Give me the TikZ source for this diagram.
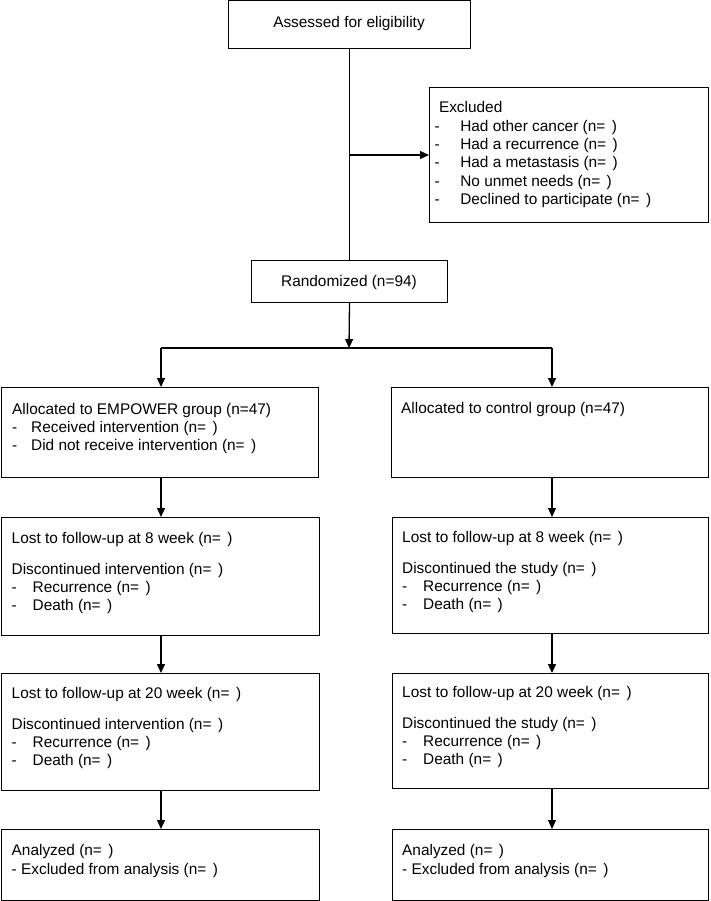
\documentclass[tikz,border=0pt]{standalone}
\usepackage{fontspec}
\setmainfont{Liberation Sans}
\usetikzlibrary{arrows.meta,calc}
\newcommand\nn{(n=\hspace{6.5pt})}
\newcommand\dashA[1]{\hspace*{-4.5pt}\makebox[25.8pt][l]{-}#1}
\newcommand\dashB[1]{\makebox[19pt][l]{-}#1}
\newcommand\dashC[1]{\makebox[21pt][l]{-}#1}
\begin{document}
\begin{tikzpicture}[x=1pt,y=-1pt,
  box/.style={draw, line width=1pt, anchor=north west, inner sep=0pt},
  txt/.style={anchor=base west, inner sep=0pt, font=\fontsize{15.4}{18.4}\selectfont},
  ctxt/.style={anchor=base, inner sep=0pt, font=\fontsize{15.4}{18.4}\selectfont},
  conn/.style={line width=1.3pt},
  arr/.style={line width=1.3pt, -{Triangle[length=9pt,width=8pt]}}]
\useasboundingbox (0,0) rectangle (710,901);

\node[box, minimum width=242pt, minimum height=47.5pt] (top) at (228,0.5) {};
\node[box, minimum width=279pt, minimum height=135pt] (excl) at (429,87) {};
\node[box, minimum width=196pt, minimum height=42pt] (rand) at (251,260) {};
\node[box, minimum width=317pt, minimum height=90pt] (l1) at (1,387) {};
\node[box, minimum width=317pt, minimum height=90pt] (r1) at (391,387) {};
\node[box, minimum width=318pt, minimum height=118pt] (l2) at (1,517) {};
\node[box, minimum width=316pt, minimum height=116pt] (r2) at (392,517) {};
\node[box, minimum width=318pt, minimum height=117pt] (l3) at (1,673) {};
\node[box, minimum width=316pt, minimum height=115pt] (r3) at (392,673) {};
\node[box, minimum width=318pt, minimum height=71pt] (l4) at (1,829) {};
\node[box, minimum width=316pt, minimum height=71pt] (r4) at (392,829) {};

\node[ctxt] (ttop) at (349,27.3) {Assessed for eligibility};
\node[ctxt] (trand) at (349,286.7) {Randomized (n=94)};
\node[txt] (texcl) at (438.8,112.7) {\begin{tabular}[t]{@{}l@{}}Excluded\\
  \dashA{Had other cancer \nn}\\
  \dashA{Had a recurrence \nn}\\
  \dashA{Had a metastasis \nn}\\
  \dashA{No unmet needs \nn}\\
  \dashA{Declined to participate \nn}\end{tabular}};
\node[txt] (tl1) at (12,414) {\begin{tabular}[t]{@{}l@{}}Allocated to EMPOWER group (n=47)\\
  \dashB{Received intervention \nn}\\
  \dashB{Did not receive intervention \nn}\end{tabular}};
\node[txt] (tr1) at (401,413) {Allocated to control group (n=47)};
\node[txt] (tl2) at (11.5,543) {\begin{tabular}[t]{@{}l@{}}Lost to follow-up at 8 week \nn\\[12.6pt]
  Discontinued intervention \nn\\
  \dashC{Recurrence \nn}\\
  \dashC{Death \nn}\end{tabular}};
\node[txt] (tr2) at (402,542) {\begin{tabular}[t]{@{}l@{}}Lost to follow-up at 8 week \nn\\[12.6pt]
  Discontinued the study \nn\\
  \dashC{Recurrence \nn}\\
  \dashC{Death \nn}\end{tabular}};
\node[txt] (tl3) at (11.5,698) {\begin{tabular}[t]{@{}l@{}}Lost to follow-up at 20 week \nn\\[12.6pt]
  Discontinued intervention \nn\\
  \dashC{Recurrence \nn}\\
  \dashC{Death \nn}\end{tabular}};
\node[txt] (tr3) at (402,697) {\begin{tabular}[t]{@{}l@{}}Lost to follow-up at 20 week \nn\\[12.6pt]
  Discontinued the study \nn\\
  \dashC{Recurrence \nn}\\
  \dashC{Death \nn}\end{tabular}};
\node[txt] (tl4) at (11.5,855.7) {\begin{tabular}[t]{@{}l@{}}Analyzed \nn\\
  - Excluded from analysis \nn\end{tabular}};
\node[txt] (tr4) at (402,855.7) {\begin{tabular}[t]{@{}l@{}}Analyzed \nn\\
  - Excluded from analysis \nn\end{tabular}};

\draw[conn] (top.south) -- (rand.north);
\coordinate (bx) at (349,155);
\draw[arr] (bx) -- (bx -| excl.west);
\coordinate (jm) at (349,348);
\draw[arr] (rand.south) -- (jm);
\coordinate (jl) at (161,348);
\coordinate (jr) at (552,348);
\draw[conn] (jl) -- (jr);
\draw[arr] (jl) -- (jl |- l1.north);
\draw[arr] (jr) -- (jr |- r1.north);
\draw[arr] (l1.south -| jl) -- (l2.north -| jl);
\draw[arr] (l2.south -| jl) -- (l3.north -| jl);
\draw[arr] (l3.south -| jl) -- (l4.north -| jl);
\draw[arr] (r1.south -| jr) -- (r2.north -| jr);
\draw[arr] (r2.south -| jr) -- (r3.north -| jr);
\draw[arr] (r3.south -| jr) -- (r4.north -| jr);
\end{tikzpicture}
\end{document}
